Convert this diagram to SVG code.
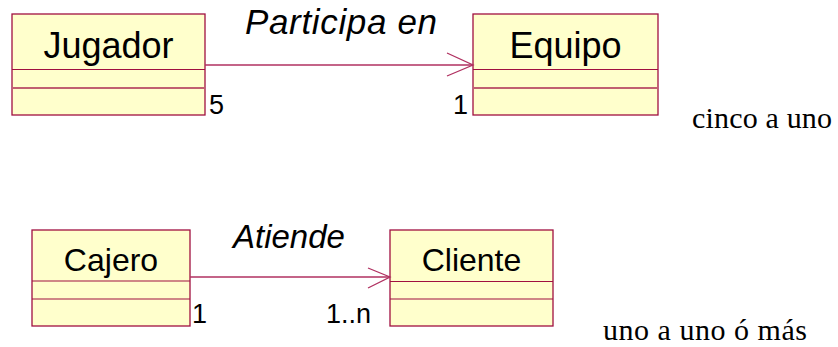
<svg xmlns="http://www.w3.org/2000/svg" width="838" height="347" viewBox="0 0 838 347">
<defs>
<style>
.box{fill:#FFFFCC;stroke:#A01040;stroke-width:1.3}
.div{stroke:#A01040;stroke-width:1.2}
.div2{stroke:#C06070;stroke-width:2}
.name{font-family:"Liberation Sans",Arial,sans-serif;fill:#000;text-anchor:middle}
.lbl{font-family:"Liberation Sans",Arial,sans-serif;font-style:italic;fill:#000}
.mult{font-family:"Liberation Sans",Arial,sans-serif;font-size:27px;fill:#000}
.note{font-family:"Liberation Serif","Times New Roman",serif;font-size:30px;fill:#000}
.conn{stroke:#B03060;stroke-width:1.3;fill:none}
</style>
</defs>
<g id="Jugador">
<rect class="box" x="12" y="14" width="193" height="101"/>
<line class="div" x1="12" y1="69.5" x2="205" y2="69.5"/>
<line class="div2" x1="12" y1="88" x2="205" y2="88"/>
<text class="name" x="108.5" y="58" font-size="36">Jugador</text>
</g>
<g id="Equipo">
<rect class="box" x="473" y="14" width="185" height="101"/>
<line class="div" x1="473" y1="69.5" x2="658" y2="69.5"/>
<line class="div2" x1="473" y1="88" x2="658" y2="88"/>
<text class="name" x="565.5" y="58" font-size="36">Equipo</text>
</g>
<g id="Cajero">
<rect class="box" x="32" y="230" width="158" height="96"/>
<line class="div" x1="32" y1="281" x2="190" y2="281"/>
<line class="div" x1="32" y1="299" x2="190" y2="299"/>
<text class="name" x="111" y="271" font-size="32">Cajero</text>
</g>
<g id="Cliente">
<rect class="box" x="390" y="230" width="163" height="96"/>
<line class="div" x1="390" y1="281.5" x2="553" y2="281.5"/>
<line class="div" x1="390" y1="299" x2="553" y2="299"/>
<text class="name" x="471.5" y="271" font-size="32">Cliente</text>
</g>
<g id="connectors">
<line class="conn" x1="205" y1="65" x2="473" y2="65"/>
<polyline class="conn" points="447,53 473,65 447,76"/>
<text class="lbl" x="245" y="34" font-size="35" textLength="192">Participa en</text>
<text class="mult" x="209" y="114">5</text>
<text class="mult" x="453" y="114">1</text>
<line class="conn" x1="190" y1="277" x2="390" y2="277"/>
<polyline class="conn" points="368,268 390,277 368,288"/>
<text class="lbl" x="233" y="248" font-size="33">Atiende</text>
<text class="mult" x="192" y="323">1</text>
<text class="mult" x="326" y="323">1..n</text>
</g>
<text class="note" x="692" y="128" textLength="140">cinco a uno</text>
<text class="note" x="603" y="340" textLength="204">uno a uno ó más</text>
</svg>
